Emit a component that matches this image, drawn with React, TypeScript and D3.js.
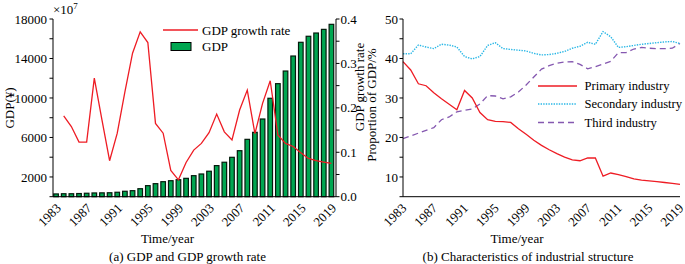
import React from "react";
import * as d3 from "d3";

const years = [1983,1984,1985,1986,1987,1988,1989,1990,1991,1992,1993,1994,1995,1996,1997,1998,1999,2000,2001,2002,2003,2004,2005,2006,2007,2008,2009,2010,2011,2012,2013,2014,2015,2016,2017,2018,2019];
const tickYears = [1983,1987,1991,1995,1999,2003,2007,2011,2015,2019];

// GDP (x10^7)
const gdp = [280,300,300,320,350,380,390,400,450,550,610,810,1120,1320,1520,1620,1720,1860,2130,2300,2580,3150,3490,3990,4660,5810,6520,7870,9970,11450,12730,14250,15640,16250,16580,16950,17460];
// growth rate, 1984..2019
const growthYears = years.slice(1);
const growth = [0.182,0.158,0.123,0.123,0.267,0.173,0.081,0.143,0.236,0.323,0.371,0.347,0.165,0.143,0.059,0.038,0.077,0.105,0.120,0.144,0.186,0.146,0.128,0.195,0.240,0.142,0.210,0.261,0.139,0.120,0.113,0.099,0.086,0.081,0.078,0.075];

const primary = [39.2,37.1,33.6,33.1,31.3,29.8,28.4,27.0,31.9,30.0,26.3,24.5,24.1,24.0,23.8,22.2,20.8,19.3,18.0,16.9,15.9,15.0,14.3,14.1,14.8,14.8,10.2,11.0,10.6,10.1,9.5,9.2,9.0,8.8,8.6,8.4,8.1];
const secondary = [41.2,41.2,43.4,42.9,42.5,43.6,43.4,42.9,40.5,39.9,40.5,43.3,44.0,42.5,42.3,42.1,41.9,41.3,40.9,41.0,41.3,41.8,42.6,43.1,44.1,43.6,46.8,45.5,42.8,43.0,43.3,43.6,43.8,44.0,44.2,44.3,43.8];
const third = [19.7,20.4,21.1,21.8,22.5,24.5,25.2,26.5,26.9,27.2,28.5,30.6,30.5,29.8,30.3,31.5,33.3,35.3,37.3,38.2,38.8,39.1,39.2,38.5,37.4,37.9,38.6,39.3,41.5,41.5,42.4,42.8,42.6,42.5,42.5,42.6,43.8];

const gdpTicks = [0,2000,4000,6000,8000,10000,12000,14000,16000,18000];
const gdpLabels = [2000,6000,10000,14000,18000];
const rateTicks = [0,0.05,0.1,0.15,0.2,0.25,0.3,0.35,0.4];
const rateLabels = [0,0.1,0.2,0.3,0.4];
const propTicks = [5,10,15,20,25,30,35,40,45,50];
const propLabels = [10,20,30,40,50];

const FONT = "'Liberation Serif', 'Times New Roman', serif";
const RED = "#ee1c24";
const CYAN = "#2ab7e6";
const PURPLE = "#8558b0";
const GREEN = "#00a651";

export default function App() {
  const W = 685, H = 264;
  const top = 19, bottom = 196.7;
  // left panel
  const xL = d3.scaleLinear().domain([1982.6, 2019.6]).range([53, 336]);
  const yL = d3.scaleLinear().domain([0, 18000]).range([bottom, top]);
  const yR = d3.scaleLinear().domain([0, 0.4]).range([bottom, top]);
  const growthLine = d3.line<number>().x((_, i) => xL(growthYears[i])).y(d => yR(d));
  const barW = 4.6;
  // right panel
  const x2 = d3.scaleLinear().domain([1983, 2019]).range([403, 680]);
  const y2 = d3.scaleLinear().domain([5, 50]).range([bottom, top]);
  const line2 = d3.line<number>().x((_, i) => x2(years[i])).y(d => y2(d));

  const fs = 13;
  const lfs = 12.6;
  return (
    <svg width={W} height={H} style={{ position: "absolute", left: 0, top: 0, background: "#fff" }} fontFamily={FONT}>
      <rect width={W} height={H} fill="#fff" />
      {/* ===== Left panel ===== */}
      {gdp.map((v, i) => (
        <rect key={i} x={xL(years[i]) - barW / 2} y={yL(v)} width={barW} height={yL(0) - yL(v)}
          fill={GREEN} stroke="#041a0c" strokeWidth={1.2} />
      ))}
      <path d={growthLine(growth) || ""} fill="none" stroke={RED} strokeWidth={1.3} />
      {/* axes */}
      <line x1={53} x2={53} y1={top} y2={bottom} stroke="#000" strokeWidth={1} />
      <line x1={336} x2={336} y1={top} y2={bottom} stroke="#000" strokeWidth={1} />
      <line x1={53} x2={336} y1={bottom} y2={bottom} stroke="#000" strokeWidth={1} />
      {gdpTicks.map(t => (
        <line key={"gt" + t} x1={49.5} x2={53} y1={yL(t)} y2={yL(t)} stroke="#000" />
      ))}
      {gdpLabels.map(t => (
        <text key={"gl" + t} x={47} y={yL(t)} dy="0.35em" textAnchor="end" fontSize={fs}>{t}</text>
      ))}
      {rateTicks.map(t => (
        <line key={"rt" + t} x1={336} x2={339.5} y1={yR(t)} y2={yR(t)} stroke="#000" />
      ))}
      {rateLabels.map(t => (
        <text key={"rl" + t} x={340.5} y={yR(t)} dy="0.35em" textAnchor="start" fontSize={fs}>{t.toFixed(1)}</text>
      ))}
      {tickYears.map(t => (
        <text key={"xl" + t} transform={`translate(${xL(t) + 2.5},${bottom + 9}) rotate(-45)`} textAnchor="end" dy="0.35em" fontSize={fs}>{t}</text>
      ))}
      <text x={53} y={14} fontSize={fs}>×10<tspan dy={-5} fontSize={9}>7</tspan></text>
      <text transform={`translate(14,108) rotate(-90)`} textAnchor="middle" fontSize={fs}>GDP(¥)</text>
      <text transform={`translate(364,87) rotate(-90)`} textAnchor="middle" fontSize={fs}>GDP growth rate</text>
      <text x={167.5} y={242.5} textAnchor="middle" fontSize={fs}>Time/year</text>
      <text x={187.5} y={260.5} textAnchor="middle" fontSize={fs}>(a) GDP and GDP growth rate</text>
      {/* legend */}
      <line x1={163} x2={198} y1={30} y2={30} stroke={RED} strokeWidth={1.3} />
      <text x={202} y={30} dy="0.35em" fontSize={fs}>GDP growth rate</text>
      <rect x={171} y={42.5} width={20} height={8} fill={GREEN} stroke="#000" strokeWidth={1} />
      <text x={202} y={46.5} dy="0.35em" fontSize={fs}>GDP</text>

      {/* ===== Right panel ===== */}
      <path d={line2(third) || ""} fill="none" stroke={PURPLE} strokeWidth={1.3} strokeDasharray="6 4" />
      <path d={line2(secondary) || ""} fill="none" stroke={CYAN} strokeWidth={1.4} strokeDasharray="1.4 1.2" />
      <path d={line2(primary) || ""} fill="none" stroke={RED} strokeWidth={1.3} />
      <line x1={403} x2={403} y1={top} y2={bottom} stroke="#000" />
      <line x1={403} x2={680} y1={bottom} y2={bottom} stroke="#000" />
      {propTicks.map(t => (
        <line key={"pt" + t} x1={399.5} x2={403} y1={y2(t)} y2={y2(t)} stroke="#000" />
      ))}
      {propLabels.map(t => (
        <text key={"pl" + t} x={398} y={y2(t)} dy="0.35em" textAnchor="end" fontSize={fs}>{t}</text>
      ))}
      {tickYears.map(t => (
        <text key={"x2" + t} transform={`translate(${x2(t) + 1},${bottom + 9}) rotate(-45)`} textAnchor="end" dy="0.35em" fontSize={fs}>{t}</text>
      ))}
      <text transform={`translate(376,105) rotate(-90)`} textAnchor="middle" fontSize={fs}>Proportion of GDP/%</text>
      <text x={517} y={242.5} textAnchor="middle" fontSize={fs}>Time/year</text>
      <text x={528} y={260.5} textAnchor="middle" fontSize={fs}>(b) Characteristics of industrial structure</text>
      {/* legend */}
      <line x1={538} x2={577} y1={86} y2={86} stroke={RED} strokeWidth={1.3} />
      <text x={584.5} y={86} dy="0.35em" fontSize={lfs}>Primary industry</text>
      <line x1={538} x2={577} y1={104} y2={104} stroke={CYAN} strokeWidth={1.4} strokeDasharray="1.4 1.2" />
      <text x={584.5} y={104} dy="0.35em" fontSize={lfs}>Secondary industry</text>
      <line x1={538} x2={577} y1={122.5} y2={122.5} stroke={PURPLE} strokeWidth={1.3} strokeDasharray="6 4" />
      <text x={584.5} y={122.5} dy="0.35em" fontSize={lfs}>Third industry</text>
    </svg>
  );
}
